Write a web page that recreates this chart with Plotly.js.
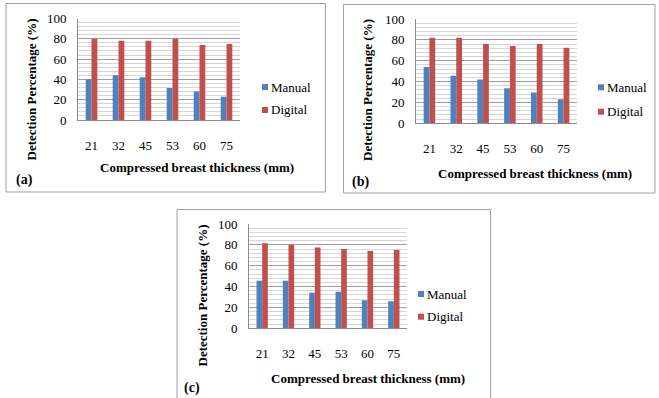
<!DOCTYPE html>
<html>
<head>
<meta charset="utf-8">
<script src="https://cdn.plot.ly/plotly-3.0.1.min.js"></script>
<style>html,body{margin:0;padding:0;background:#fff;}#chart{width:659px;height:398px;}</style>
</head>
<body>
<div id="chart"></div>
<script>
// ---- data ----
const categories = ['21', '32', '45', '53', '60', '75'];
const seriesNames = ['Manual', 'Digital'];
const manualA = [40, 44, 42, 31.5, 28, 23];
const digitalA = [80, 78, 78, 80, 74, 75];
const manualB = [54, 45.5, 42, 33.5, 29.5, 23];
const digitalB = [82, 82, 76, 74, 76, 72.5];
const manualC = [45.5, 45.5, 34, 35, 27, 26];
const digitalC = [81.5, 80, 77.5, 76, 74, 75];
const panelLabels = ['(a)', '(b)', '(c)'];
const xTitle = 'Compressed breast thickness (mm)';
const yTitle = 'Detection Percentage (%)';
const yTickVals = [0, 20, 40, 60, 80, 100];

// ---- layout helpers (pixel -> paper) ----
const W = 659, H = 398;
const PX = p => p / W;
const PY = p => 1 - p / H;
const FONT = 'Liberation Serif';
const colors = ['#4f81bd', '#c0504d'];

const panels = [
  {m: manualA, d: digitalA, ax: '', plot: [78, 240, 18.5, 120], box: [6, 325.5, 3.5, 192],
   xt: [196.5, 167], yt: [31.5, 90], lab: [24.5, 179.5], leg: [262, 87, 110]},
  {m: manualB, d: digitalB, ax: '2', plot: [416, 577, 19, 123.3], box: [343.5, 655, 4.5, 193],
   xt: [534.5, 173], yt: [368, 90], lab: [360.5, 181.5], leg: [598, 87.3, 111.7]},
  {m: manualC, d: digitalC, ax: '3', plot: [249, 407, 224, 328.3], box: [177, 490.5, 209.5, 400],
   xt: [368, 378], yt: [201.5, 296], lab: [191.5, 387.5], leg: [418, 294, 316.7]}
];

const traces = [];
const layout = {
  width: W, height: H,
  margin: {l: 0, r: 0, t: 0, b: 0},
  paper_bgcolor: '#ffffff', plot_bgcolor: '#ffffff',
  showlegend: false,
  barmode: 'group', bargap: 0.57, bargroupgap: 0,
  font: {family: FONT, size: 13, color: '#000'},
  shapes: [], annotations: []
};

panels.forEach((p, i) => {
  const xa = 'x' + p.ax, ya = 'y' + p.ax;
  [p.m, p.d].forEach((vals, k) => {
    traces.push({
      type: 'bar', x: categories, y: vals, name: seriesNames[k],
      xaxis: xa, yaxis: ya, marker: {color: colors[k], line: {width: 0}},
      hoverinfo: 'x+y+name'
    });
  });
  layout['xaxis' + p.ax] = {
    domain: [PX(p.plot[0]), PX(p.plot[1])], anchor: ya, type: 'category',
    showline: true, linecolor: '#8c8c8c', linewidth: 1,
    showgrid: false, zeroline: false,
    ticks: 'outside', ticklen: 13, tickcolor: 'rgba(0,0,0,0)',
    tickfont: {family: FONT, size: 13, color: '#000'}, fixedrange: true
  };
  layout['yaxis' + p.ax] = {
    domain: [PY(p.plot[3]), PY(p.plot[2])], anchor: xa,
    range: [0, 100], tickvals: yTickVals, ticktext: yTickVals.map(String),
    showline: true, linecolor: '#8c8c8c', linewidth: 1,
    showgrid: true, gridcolor: '#a0a0a0', gridwidth: 1, zeroline: false,
    minor: {dtick: 4, showgrid: true, gridcolor: '#d6d6d6', gridwidth: 1},
    ticks: 'outside', ticklen: 8, tickcolor: 'rgba(0,0,0,0)',
    tickfont: {family: FONT, size: 13, color: '#000'}, fixedrange: true
  };
  // panel border
  layout.shapes.push({type: 'rect', xref: 'paper', yref: 'paper',
    x0: PX(p.box[0]), x1: PX(p.box[1]), y0: PY(p.box[3]), y1: PY(p.box[2]),
    line: {color: '#a0a0a0', width: 1}, fillcolor: 'rgba(0,0,0,0)'});
  // legend squares and labels
  seriesNames.forEach((n, k) => {
    const cy = p.leg[1 + k];
    layout.shapes.push({type: 'rect', xref: 'paper', yref: 'paper',
      x0: PX(p.leg[0]), x1: PX(p.leg[0] + 6), y0: PY(cy + 3), y1: PY(cy - 3),
      line: {width: 0}, fillcolor: colors[k]});
    layout.annotations.push({xref: 'paper', yref: 'paper', x: PX(p.leg[0] + 7), y: PY(cy),
      xanchor: 'left', yanchor: 'middle', showarrow: false, text: n,
      font: {family: FONT, size: 13, color: '#000'}});
  });
  // titles
  layout.annotations.push({xref: 'paper', yref: 'paper', x: PX(p.xt[0]), y: PY(p.xt[1]),
    xanchor: 'center', yanchor: 'middle', showarrow: false, text: '<b>' + xTitle + '</b>',
    font: {family: FONT, size: 13, color: '#000'}});
  layout.annotations.push({xref: 'paper', yref: 'paper', x: PX(p.yt[0]), y: PY(p.yt[1]),
    xanchor: 'center', yanchor: 'middle', showarrow: false, textangle: -90,
    text: '<b>' + yTitle + '</b>', font: {family: FONT, size: 13, color: '#000'}});
  layout.annotations.push({xref: 'paper', yref: 'paper', x: PX(p.lab[0]), y: PY(p.lab[1]),
    xanchor: 'center', yanchor: 'middle', showarrow: false, text: '<b>' + panelLabels[i] + '</b>',
    font: {family: FONT, size: 14, color: '#000'}});
});

Plotly.newPlot('chart', traces, layout, {displayModeBar: false, staticPlot: true});
</script>
</body>
</html>
